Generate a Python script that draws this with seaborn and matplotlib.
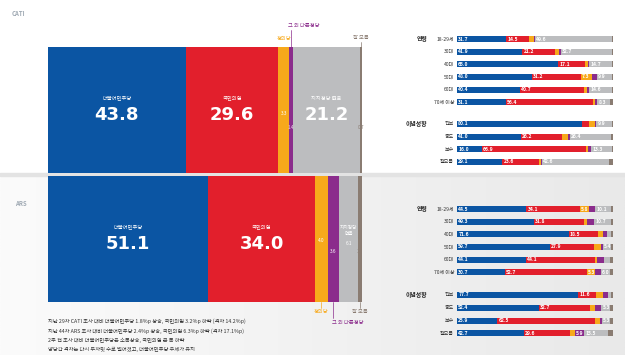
import matplotlib
matplotlib.use('Agg')
import numpy as np
import pandas as pd
import matplotlib.pyplot as plt
from matplotlib.patches import Rectangle
import seaborn as sns

sns.set_theme(style='white')
plt.rcParams['font.family'] = ['Noto Sans CJK KR', 'DejaVu Sans']

W, H = 625, 355

# ----- DATA -----
parties = ['더불어민주당', '국민의힘', '정의당', '그 외 다른정당', '지지정당 없음', '잘 모름']
colors = ['#0b55a3', '#e21f2c', '#f7a91b', '#8b2c8c', '#bcbdbf', '#8a7c72']

cati_total = [43.8, 29.6, 3.3, 1.4, 21.2, 0.7]
ars_total = [51.1, 34.0, 4.0, 3.6, 6.1, 1.1]

age_groups = ['18-29세', '30대', '40대', '50대', '60대', '70세 이상']
ideology_groups = ['진보', '중도', '보수', '잘모름']

cati_age = [
    [31.7, 14.5, 3.2, 0.3, 49.6, 0.7],
    [41.9, 21.2, 2.4, 1.2, 32.7, 0.6],
    [65.0, 17.1, 2.0, 0.6, 14.7, 0.6],
    [48.0, 31.2, 7.3, 3.0, 9.9, 0.6],
    [40.4, 40.7, 2.5, 1.0, 14.6, 0.8],
    [31.1, 56.4, 1.0, 1.5, 8.3, 1.7],
]
cati_ideo = [
    [80.1, 4.6, 3.6, 1.0, 9.9, 0.8],
    [41.0, 26.2, 3.8, 1.2, 26.4, 1.4],
    [16.0, 66.9, 1.2, 1.9, 13.3, 0.7],
    [29.1, 23.6, 1.4, 0.5, 42.6, 2.8],
]
ars_age = [
    [44.5, 34.1, 5.8, 4.2, 10.1, 1.3],
    [49.3, 31.8, 2.1, 4.8, 10.7, 1.3],
    [71.6, 18.5, 3.6, 2.6, 2.6, 1.1],
    [59.7, 27.9, 4.5, 1.3, 5.4, 1.2],
    [44.1, 44.1, 1.5, 4.5, 3.6, 2.2],
    [30.7, 52.7, 5.3, 3.5, 6.0, 1.8],
]
ars_ideo = [
    [77.7, 11.6, 4.0, 3.2, 2.5, 1.0],
    [52.4, 32.7, 3.3, 4.2, 5.3, 2.1],
    [25.9, 62.5, 3.0, 1.5, 5.3, 1.8],
    [42.7, 29.6, 3.3, 5.9, 15.5, 3.0],
]

notes = [
    '지난 29차 CATI 조사 대비 더불어민주당 1.8%p 상승, 국민의힘 3.2%p 하락 (격차 14.2%p)',
    '지난 44차 ARS 조사 대비 더불어민주당 2.4%p 상승, 국민의힘 6.3%p 하락 (격차 17.1%p)',
    '2주 전 조사 대비 더불어민주당은 소폭상승, 국민의힘 큰 폭 하락',
    '양당간 격차는 다시 두자릿 수로 벌어졌고, 더불어민주당 우세가 유지',
]

# ----- FIGURE -----
fig = plt.figure(figsize=(W / 100, H / 100), dpi=100, facecolor='white')


def box(x0, y0, x1, y1, **kw):
    # axes from pixel box (top-left origin)
    return fig.add_axes([x0 / W, 1 - y1 / H, (x1 - x0) / W, (y1 - y0) / H], **kw)


# background of the lower half + separator band
bg = box(0, 176, W, H, zorder=-5)
grad = np.linspace(0, 1, 256)[None, :]
bg.imshow(grad, aspect='auto', cmap=matplotlib.colors.LinearSegmentedColormap.from_list(
    'g', ['#fbfbfb', '#e9e9e9']), extent=[0, 1, 0, 1])
bg.axis('off')
fig.add_artist(Rectangle((0, 1 - 176 / H), 1, 3 / H, transform=fig.transFigure,
                         color='#e3e3e3', zorder=-4))


def stacked(ax, rows, values, bar_w):
    df = pd.DataFrame(values, columns=parties)
    df['row'] = rows
    cum = df[parties].cumsum(axis=1)
    for p, c in reversed(list(zip(parties, colors))):
        sns.barplot(x=cum[p], y=df['row'], orient='h', order=rows, color=c,
                    saturation=1, width=bar_w, errorbar=None, linewidth=0, ax=ax)
    ax.set_xlim(0, 100)
    ax.set_ylim(len(rows) - 0.5, -0.5)
    ax.set_facecolor('none')
    ax.axis('off')
    return df, cum


def small_panel(ax, rows, values, title):
    df, cum = stacked(ax, rows, values, 0.47)
    for i in range(len(df)):
        left = 0
        for p in parties:
            v = df[p].iloc[i]
            if v >= 5:
                ax.text(left + 0.8, i, f'{v:.1f}', color='white', fontsize=3.6,
                        fontweight='bold', va='center', ha='left')
            left += v
        ax.text(-1.9, i, rows[i], fontsize=3.6, color='#333333', ha='right', va='center')
    ax.text(-19.2, 0, title, fontsize=4.2, fontweight='bold', color='#222222',
            ha='right', va='center')


def big_panel(ax, vals, name):
    df, cum = stacked(ax, [name], [vals], 1.0)
    left = 0
    for p, v in zip(parties, vals):
        if v >= 20:
            c = left + v / 2
            ax.text(c, -0.095, p, fontsize=3.8, color='white', ha='center', va='center')
            ax.text(c, 0.04, f'{v:.1f}', fontsize=13, fontweight='bold', color='white',
                    ha='center', va='center', family='DejaVu Sans')
        left += v
    return np.concatenate([[0], np.cumsum(vals)])


# ----- CATI -----
fig.text(12 / W, 1 - 14 / H, 'CATI', fontsize=4.3, color='#9fa9b3', fontweight='bold', va='center')
ax1 = box(48, 47, 362, 173)
e = big_panel(ax1, cati_total, 'CATI')
mid = (e[:-1] + e[1:]) / 2
ax1.text(mid[2], 0.024, f'{cati_total[2]:.1f}', fontsize=3.4, color='white', ha='center', va='center')
ax1.text(mid[3], 0.135, f'{cati_total[3]:.1f}', fontsize=3.4, color='#e8d5ea', ha='center', va='center')
ax1.text(mid[5], 0.135, f'{cati_total[5]:.1f}', fontsize=3.4, color='#8a7c72', ha='center', va='center')
ax1.text(mid[2], -0.57, parties[2], fontsize=3.8, color='#f7a91b', ha='center', va='center')
ax1.plot([mid[3], mid[3]], [-0.635, -0.5], color='#8b2c8c', lw=0.5, clip_on=False)
ax1.text(mid[3] - 1, -0.667, parties[3], fontsize=3.8, color='#8b2c8c', ha='left', va='center')
ax1.plot([mid[5], mid[5]], [-0.54, -0.5], color='#8a7c72', lw=0.5, clip_on=False)
ax1.text(mid[5], -0.575, parties[5], fontsize=3.8, color='#8a7c72', ha='center', va='center')

# ----- ARS -----
fig.text(15 / W, 1 - 203 / H, 'ARS', fontsize=4.3, color='#9fa9b3', fontweight='bold', va='center')
ax2 = box(48, 176, 362, 302)
e = big_panel(ax2, ars_total, 'ARS')
mid = (e[:-1] + e[1:]) / 2
ax2.text(mid[2], 0.008, f'{ars_total[2]:.1f}', fontsize=3.4, color='white', ha='center', va='center')
ax2.text(mid[3], 0.103, f'{ars_total[3]:.1f}', fontsize=3.4, color='white', ha='center', va='center')
ax2.text(mid[4], -0.07, '지지정당\n없음', fontsize=3.4, color='white', ha='center', va='center',
         linespacing=1.2)
ax2.text(mid[4], 0.032, f'{ars_total[4]:.1f}', fontsize=3.4, color='white', ha='center', va='center')
ax2.text(mid[5], 0.103, f'{ars_total[5]:.1f}', fontsize=3.4, color='#8a7c72', ha='center', va='center')
ax2.plot([mid[2], mid[2]], [0.5, 0.548], color='#f7a91b', lw=0.5, clip_on=False)
ax2.text(mid[2], 0.579, parties[2], fontsize=3.8, color='#f7a91b', ha='center', va='center')
ax2.plot([mid[3], mid[3]], [0.5, 0.627], color='#8b2c8c', lw=0.5, clip_on=False)
ax2.text(mid[3] - 0.6, 0.659, parties[3], fontsize=3.8, color='#8b2c8c', ha='left', va='center')
ax2.plot([mid[5], mid[5]], [0.5, 0.548], color='#8a7c72', lw=0.5, clip_on=False)
ax2.text(mid[5], 0.579, parties[5], fontsize=3.8, color='#8a7c72', ha='center', va='center')

for k, line in enumerate(notes):
    fig.text(48 / W, 1 - (321.7 + 9.4 * k) / H, line, fontsize=3.8, color='#333333', va='center')

# ----- RIGHT PANELS -----
small_panel(box(457, 32.7, 613, 108.6), age_groups, cati_age, '연령')
small_panel(box(457, 117.7, 613, 168), ideology_groups, cati_ideo, '이념성향')
small_panel(box(457, 202.7, 613, 278.6), age_groups, ars_age, '연령')
small_panel(box(457, 288.6, 613, 339.7), ideology_groups, ars_ideo, '이념성향')

fig.savefig('out.png', dpi=100, facecolor='white')
